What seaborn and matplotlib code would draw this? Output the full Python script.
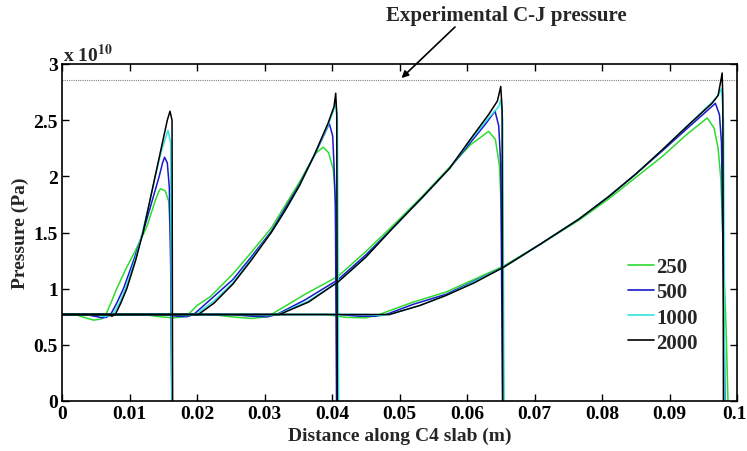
import numpy as np
import pandas as pd
import matplotlib
matplotlib.use('Agg')
import matplotlib.pyplot as plt
import matplotlib.transforms as mtransforms
import seaborn as sns
from matplotlib.lines import Line2D

# pressure in units of 1e10 Pa, distance in m
res_labels = ['250', '500', '1000', '2000']
res_colors = ['#2EDC2E', '#1818CC', '#33E3E3', '#000000']
cj_pressure = 2.86

xticks = [0, 0.01, 0.02, 0.03, 0.04, 0.05, 0.06, 0.07, 0.08, 0.09, 0.1]
xtick_labels = ['0', '0.01', '0.02', '0.03', '0.04', '0.05', '0.06', '0.07', '0.08', '0.09', '0.1']
yticks = [0, 0.5, 1, 1.5, 2, 2.5, 3]
ytick_labels = ['0', '0.5', '1', '1.5', '2', '2.5', '3']

# snapshot 1 (front near 0.0163 m)
x1_250 = [0, 0.0019, 0.0035, 0.0047, 0.0058, 0.0065, 0.0073, 0.0081, 0.0095, 0.0108, 0.0125, 0.0138, 0.0143, 0.0146, 0.0153, 0.0158, 0.0161, 0.0162, 0.0163]
p1_250 = [0.77, 0.77, 0.74, 0.72, 0.73, 0.77, 0.88, 1.0, 1.18, 1.33, 1.54, 1.78, 1.86, 1.89, 1.87, 1.78, 1.42, 0.8, -0.3]
x1_500 = [0, 0.0035, 0.0052, 0.0060, 0.0066, 0.0072, 0.0081, 0.0091, 0.0106, 0.0120, 0.0132, 0.0144, 0.0149, 0.0152, 0.0156, 0.0159, 0.0161, 0.0163]
p1_500 = [0.77, 0.77, 0.75, 0.74, 0.745, 0.77, 0.87, 1.0, 1.25, 1.5, 1.75, 2.0, 2.12, 2.17, 2.12, 1.9, 1.2, -0.3]
x1_1000 = [0, 0.0052, 0.0064, 0.0075, 0.0085, 0.0094, 0.0108, 0.0119, 0.0129, 0.0138, 0.0147, 0.0157, 0.0161, 0.0163]
p1_1000 = [0.77, 0.77, 0.75, 0.77, 0.87, 1.0, 1.25, 1.5, 1.75, 2.0, 2.22, 2.41, 2.3, -0.3]
x1_2000 = [0, 0.0068, 0.0074, 0.0079, 0.0087, 0.0096, 0.0109, 0.0120, 0.0129, 0.0138, 0.0147, 0.0156, 0.0160, 0.0163, 0.0164]
p1_2000 = [0.77, 0.77, 0.755, 0.77, 0.87, 1.0, 1.25, 1.5, 1.75, 2.0, 2.25, 2.5, 2.58, 2.5, -0.3]

# snapshot 2 (front near 0.0407 m)
x2_250 = [0, 0.012, 0.0145, 0.0165, 0.0180, 0.0187, 0.0200, 0.0220, 0.0253, 0.0280, 0.0310, 0.0352, 0.0375, 0.0387, 0.0395, 0.0402, 0.0405, 0.0407, 0.0408]
p2_250 = [0.77, 0.77, 0.75, 0.74, 0.75, 0.77, 0.85, 0.93, 1.13, 1.32, 1.54, 1.95, 2.20, 2.26, 2.21, 2.06, 1.8, 0.8, -0.3]
x2_500 = [0, 0.015, 0.0170, 0.0185, 0.0195, 0.0210, 0.0253, 0.028, 0.031, 0.0352, 0.0375, 0.0389, 0.0396, 0.0401, 0.0403, 0.0405, 0.0407]
p2_500 = [0.77, 0.77, 0.755, 0.75, 0.77, 0.85, 1.08, 1.28, 1.51, 1.93, 2.2, 2.38, 2.47, 2.36, 2.1, 1.74, -0.3]
x2_1000 = [0, 0.017, 0.0185, 0.0198, 0.0225, 0.0253, 0.028, 0.031, 0.0331, 0.0352, 0.0373, 0.0394, 0.0403, 0.0406, 0.0408, 0.0410]
p2_1000 = [0.77, 0.77, 0.76, 0.77, 0.89, 1.05, 1.26, 1.5, 1.7, 1.92, 2.18, 2.45, 2.6, 2.65, 2.5, -0.3]
x2_2000 = [0, 0.0202, 0.0225, 0.0253, 0.028, 0.031, 0.0331, 0.0352, 0.0373, 0.0394, 0.0403, 0.04055, 0.0407, 0.0408]
p2_2000 = [0.77, 0.77, 0.87, 1.04, 1.25, 1.5, 1.7, 1.92, 2.18, 2.47, 2.62, 2.74, 2.55, -0.3]

# snapshot 3 (front near 0.0653 m)
x3_250 = [0, 0.022, 0.025, 0.028, 0.0305, 0.031, 0.0335, 0.036, 0.0409, 0.045, 0.049, 0.0535, 0.0574, 0.0605, 0.0632, 0.0642, 0.0648, 0.0651, 0.0653, 0.0655]
p3_250 = [0.77, 0.77, 0.75, 0.735, 0.75, 0.77, 0.86, 0.95, 1.11, 1.33, 1.56, 1.83, 2.08, 2.28, 2.40, 2.33, 2.1, 1.7, 0.8, -0.3]
x3_500 = [0, 0.025, 0.028, 0.0305, 0.0318, 0.036, 0.0409, 0.045, 0.049, 0.0535, 0.0574, 0.0605, 0.0628, 0.06415, 0.0647, 0.0650, 0.0653]
p3_500 = [0.77, 0.77, 0.755, 0.75, 0.77, 0.9, 1.08, 1.3, 1.54, 1.82, 2.07, 2.3, 2.47, 2.58, 2.45, 2.1, -0.3]
x3_1000 = [0, 0.028, 0.0305, 0.032, 0.0365, 0.0409, 0.045, 0.049, 0.0535, 0.0574, 0.0605, 0.0632, 0.0647, 0.0650, 0.0653, 0.0655]
p3_1000 = [0.77, 0.77, 0.76, 0.77, 0.89, 1.06, 1.28, 1.54, 1.82, 2.07, 2.32, 2.52, 2.62, 2.68, 2.5, -0.3]
x3_2000 = [0, 0.0322, 0.0365, 0.0409, 0.045, 0.049, 0.0535, 0.0574, 0.0605, 0.0632, 0.0645, 0.0650, 0.0652, 0.0653]
p3_2000 = [0.77, 0.77, 0.88, 1.06, 1.28, 1.54, 1.82, 2.07, 2.33, 2.55, 2.67, 2.80, 2.6, -0.3]

# snapshot 4 (front near 0.098 m)
x4_250 = [0, 0.039, 0.042, 0.045, 0.047, 0.052, 0.0569, 0.0654, 0.0707, 0.0766, 0.0810, 0.0850, 0.0890, 0.0925, 0.0956, 0.0966, 0.0972, 0.0976, 0.0980, 0.0984, 0.0988]
p4_250 = [0.77, 0.77, 0.745, 0.74, 0.77, 0.88, 0.97, 1.2, 1.39, 1.61, 1.80, 1.99, 2.18, 2.37, 2.52, 2.43, 2.25, 1.98, 1.3, 0.6, -0.3]
x4_500 = [0, 0.041, 0.044, 0.0465, 0.048, 0.052, 0.0569, 0.0654, 0.0707, 0.0766, 0.081, 0.085, 0.089, 0.0925, 0.0955, 0.0968, 0.0974, 0.0977, 0.0980, 0.0983]
p4_500 = [0.77, 0.77, 0.755, 0.755, 0.77, 0.86, 0.95, 1.19, 1.39, 1.62, 1.82, 2.02, 2.23, 2.42, 2.58, 2.65, 2.55, 2.3, 1.0, -0.3]
x4_1000 = [0, 0.045, 0.047, 0.0485, 0.053, 0.0569, 0.0654, 0.0707, 0.0766, 0.081, 0.085, 0.089, 0.0925, 0.0963, 0.0972, 0.0977, 0.0980, 0.0982]
p4_1000 = [0.77, 0.77, 0.76, 0.77, 0.85, 0.94, 1.19, 1.39, 1.62, 1.82, 2.02, 2.24, 2.44, 2.66, 2.72, 2.78, 2.5, -0.3]
x4_2000 = [0, 0.0485, 0.053, 0.0569, 0.061, 0.0654, 0.0707, 0.0766, 0.081, 0.085, 0.089, 0.0925, 0.0963, 0.0972, 0.0976, 0.0978, 0.0979, 0.0980]
p4_2000 = [0.77, 0.77, 0.85, 0.94, 1.05, 1.19, 1.39, 1.62, 1.82, 2.02, 2.24, 2.44, 2.65, 2.72, 2.85, 2.92, 2.7, -0.3]

curves = {
    1: {'250': (x1_250, p1_250), '500': (x1_500, p1_500), '1000': (x1_1000, p1_1000), '2000': (x1_2000, p1_2000)},
    2: {'250': (x2_250, p2_250), '500': (x2_500, p2_500), '1000': (x2_1000, p2_1000), '2000': (x2_2000, p2_2000)},
    3: {'250': (x3_250, p3_250), '500': (x3_500, p3_500), '1000': (x3_1000, p3_1000), '2000': (x3_2000, p3_2000)},
    4: {'250': (x4_250, p4_250), '500': (x4_500, p4_500), '1000': (x4_1000, p4_1000), '2000': (x4_2000, p4_2000)},
}

rows = []
for snap, by_res in curves.items():
    for res, (xs, ps) in by_res.items():
        for xv, pv in zip(xs, ps):
            rows.append({'snap': f'{res}_{snap}', 'res': res, 'x': xv, 'p': pv})
df = pd.DataFrame(rows)

sns.set_style('ticks')
plt.rcParams['font.family'] = ['Liberation Serif', 'DejaVu Serif']
plt.rcParams['font.weight'] = 'bold'
plt.rcParams['axes.labelweight'] = 'bold'
plt.rcParams['mathtext.fontset'] = 'stix'

fig = plt.figure(figsize=(7.47, 4.52), dpi=100)
ax = fig.add_axes([62 / 747, 1 - 402 / 452, 675 / 747, 337 / 452])

palette = dict(zip(res_labels, res_colors))
sns.lineplot(data=df, x='x', y='p', hue='res', hue_order=res_labels, units='snap',
             estimator=None, sort=False, palette=palette, linewidth=1.1,
             legend=False, ax=ax)

ax.axhline(cj_pressure, color='#808080', lw=0.8, ls=(0, (1, 1)), zorder=1)

ax.set_xlim(0, 0.1)
ax.set_ylim(0, 3)
ax.set_xticks(xticks)
ax.set_xticklabels(xtick_labels)
ax.set_yticks(yticks)
ax.set_yticklabels(ytick_labels)
ax.tick_params(direction='in', length=5, width=1, top=True, right=True,
               labelsize=14, pad=3, colors='black')
# pull the last x label a little inside the figure
last = ax.get_xticklabels()[-1]
last.set_transform(last.get_transform() + mtransforms.ScaledTranslation(-3 / 100, 0, fig.dpi_scale_trans))
for s in ax.spines.values():
    s.set_visible(True)
    s.set_linewidth(1.2)
    s.set_color('black')

ax.set_xlabel('Distance along C4 slab (m)', fontsize=14, fontweight='bold', labelpad=3)
ax.set_ylabel('Pressure (Pa)', fontsize=14, fontweight='bold', labelpad=3)
ax.text(0.002, 1.009, r'x 10$^{10}$', transform=ax.transAxes,
        fontsize=14, fontweight='bold', ha='left', va='baseline')

# annotation for the C-J line
ax.annotate('', xy=(0.0503, 2.875), xytext=(455 / 747, 1 - 28 / 452),
            textcoords='figure fraction',
            arrowprops=dict(arrowstyle='-|>', color='black', lw=1.2,
                            mutation_scale=10, shrinkA=0, shrinkB=0))
fig.text(506 / 747, 1 - 16 / 452, 'Experimental C-J pressure', ha='center', va='center',
         fontsize=15, fontweight='bold')

handles = [Line2D([0], [0], color=c, lw=1.2) for c in res_colors]
ax.legend(handles, res_labels, loc='center left', bbox_to_anchor=(0.839, 0.285),
          frameon=False, fontsize=15, handlelength=1.25, handletextpad=0.1,
          labelspacing=0.25, borderpad=0, borderaxespad=0)

fig.savefig('out.png', dpi=100)
